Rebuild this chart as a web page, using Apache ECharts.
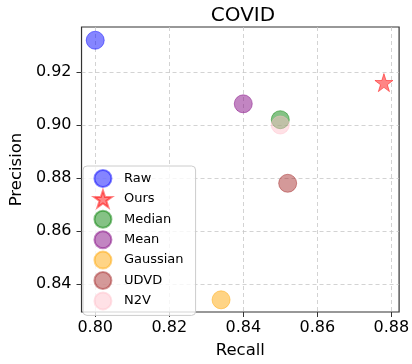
<!DOCTYPE html>
<html><head><meta charset="utf-8">
<script src="https://cdn.jsdelivr.net/npm/echarts@6/dist/echarts.min.js"></script>
<style>html,body{margin:0;padding:0;background:#fff}#c{width:412px;height:364px}</style>
</head><body><div id="c"></div>
<script>
const methods = ['Raw','Ours','Median','Mean','Gaussian','UDVD','N2V'];
const recall = [0.800, 0.878, 0.850, 0.840, 0.834, 0.852, 0.850];
const precision = [0.932, 0.916, 0.902, 0.908, 0.834, 0.878, 0.900];
const colors = ['rgba(0,0,255,0.6)','rgba(255,0,0,0.6)','rgba(0,128,0,0.6)','rgba(128,0,128,0.6)','rgba(255,165,0,0.6)','rgba(165,42,42,0.6)','rgba(255,192,203,0.6)'];
const xTicks = [0.80,0.82,0.84,0.86,0.88];
const yTicks = [0.84,0.86,0.88,0.90,0.92];

// star symbol path (5-point)
function starPath(){
  let pts=[];
  for(let i=0;i<10;i++){
    const r = i%2===0 ? 50 : 19.1;
    const a = -Math.PI/2 + i*Math.PI/5;
    pts.push((50+r*Math.cos(a)).toFixed(2)+' '+(50+r*Math.sin(a)).toFixed(2));
  }
  return 'path://M'+pts.join(' L')+' Z';
}
const star = starPath();

const chart = echarts.init(document.getElementById('c'), null, {renderer:'canvas'});
const font = 'DejaVu Sans';
const series = methods.map((m,i)=>({
  name:m, type:'scatter',
  data:[[recall[i], precision[i]]],
  symbol: m==='Ours' ? star : 'circle',
  symbolSize: 18,
  itemStyle:{color:colors[i], borderColor:colors[i], borderWidth:1},
  emphasis:{disabled:true},
  z: 2+i
}));
chart.setOption({
  animation:false,
  title:{text:'COVID', left:238, top:1, textAlign:'center',
    textStyle:{fontFamily:font, fontSize:20, fontWeight:'normal', color:'#000'}},
  grid:{left:76, right:11, top:27, bottom:46, show:true, borderColor:'#333', borderWidth:1.2, backgroundColor:'transparent'},
  legend:{
    orient:'vertical', left:83, top:166,
    itemWidth:20, itemHeight:17, itemGap:1.4,
    padding:[3,12,5,10],
    backgroundColor:'rgba(255,255,255,0.8)', borderColor:'#ccc', borderWidth:1, borderRadius:4,
    textStyle:{fontFamily:font, fontSize:13, lineHeight:15, color:'#000', padding:[0,0,0,6]},
    data: methods.map((m,i)=>({name:m, icon: m==='Ours'?star:'circle', itemStyle:{color:colors[i], borderColor:colors[i]}}))
  },
  xAxis:{
    type:'value', min:0.7963, max:0.8821, splitNumber:5,
    name:'Recall', nameLocation:'middle', nameGap:30,
    nameTextStyle:{fontFamily:font, fontSize:16.5, color:'#000'},
    axisLine:{show:false},
    axisTick:{show:true, length:5, lineStyle:{color:'#333'}, customValues:xTicks},
    axisLabel:{fontFamily:font, fontSize:16, color:'#000', margin:8, customValues:xTicks,
      formatter:v=>v.toFixed(2)},
    splitLine:{show:true, lineStyle:{type:[4,3], color:'#c8c8c8', width:0.8}}
  },
  yAxis:{
    type:'value', min:0.8294, max:0.937, splitNumber:5,
    name:'Precision', nameLocation:'middle', nameGap:51,
    nameTextStyle:{fontFamily:font, fontSize:16.5, color:'#000'},
    axisLine:{show:false},
    axisTick:{show:true, length:5, lineStyle:{color:'#333'}, customValues:yTicks},
    axisLabel:{fontFamily:font, fontSize:16, color:'#000', margin:10, customValues:yTicks,
      formatter:v=>v.toFixed(2)},
    splitLine:{show:true, lineStyle:{type:[4,3], color:'#c8c8c8', width:0.8}}
  },
  series: series
});
</script></body></html>
